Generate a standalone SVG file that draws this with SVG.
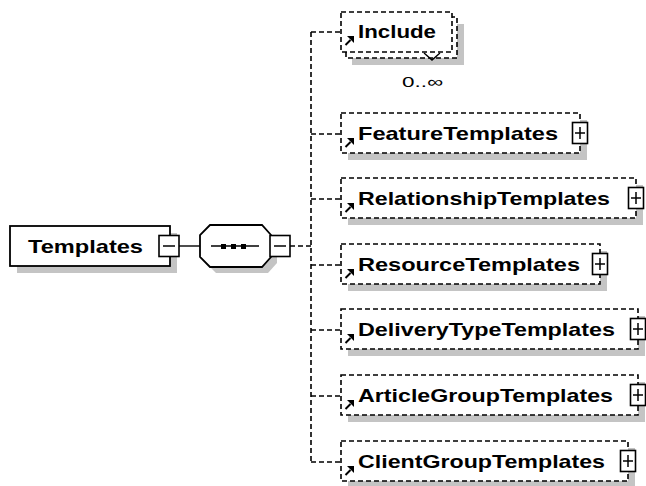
<svg xmlns="http://www.w3.org/2000/svg" width="646" height="486" viewBox="0 0 646 486">
<defs>
<style>
.bg{fill:#ffffff}
.shadow{fill:#c4c4c4;stroke:none}
.box{fill:#ffffff;stroke:#000;stroke-width:1.8}
.opt{fill:#ffffff;stroke:#000;stroke-width:1.6;stroke-dasharray:5 3}
.tog{fill:#ffffff;stroke:#000;stroke-width:1.6}
.sym{stroke:#000;stroke-width:1.5;fill:none}
.conn{stroke:#000;stroke-width:1.4;fill:none}
.dash{stroke:#000;stroke-width:1.6;fill:none;stroke-dasharray:5 3}
.lbl{font-family:"Liberation Sans",Arial,sans-serif;font-weight:bold;font-size:19px;fill:#000}
.occ{font-family:"Liberation Sans",Arial,sans-serif;font-size:15px;fill:#000}
</style>
<g id="refarrow">
<line x1="345.5" y1="13" x2="350.5" y2="8" stroke="#000" stroke-width="2"/>
<polygon points="354,4 354,11 347,4" fill="#000"/>
</g>
<g id="plus">
<rect x="-7.5" y="-10.5" width="15" height="21" class="tog"/>
<line x1="-5" y1="0" x2="5" y2="0" class="sym"/>
<line x1="0" y1="-6" x2="0" y2="6" class="sym"/>
</g>
</defs>
<rect width="646" height="486" class="bg"/>

<g id="connectors">
<line x1="178" y1="246" x2="200" y2="246" class="conn"/>
<line x1="290" y1="246" x2="311" y2="246" class="dash"/>
<line x1="311" y1="32" x2="311" y2="462" class="dash"/>
<line x1="311" y1="32" x2="341" y2="32" class="dash"/>
<line x1="311" y1="134" x2="341" y2="134" class="dash"/>
<line x1="311" y1="199" x2="341" y2="199" class="dash"/>
<line x1="311" y1="265" x2="341" y2="265" class="dash"/>
<line x1="311" y1="330" x2="341" y2="330" class="dash"/>
<line x1="311" y1="396" x2="341" y2="396" class="dash"/>
<line x1="311" y1="462" x2="341" y2="462" class="dash"/>
</g>

<g id="Templates">
<rect x="17" y="233" width="160" height="40" class="shadow"/>
<rect x="10" y="226" width="160" height="40" class="box"/>
<text x="28" y="252.5" class="lbl" textLength="115" lengthAdjust="spacingAndGlyphs">Templates</text>
<rect x="159" y="235.5" width="20" height="21" class="tog"/>
<line x1="163" y1="246" x2="175" y2="246" class="sym"/>
</g>

<g id="sequence">
<polygon points="216,231 268,231 277,241 277,263 268,273 216,273 206,263 206,241" class="shadow"/>
<polygon points="210,225 262,225 271,235 271,257 262,267 210,267 200,257 200,235" class="box"/>
<line x1="211" y1="246" x2="259" y2="246" class="conn"/>
<rect x="221" y="244" width="5" height="5" fill="#000"/>
<rect x="231" y="244" width="5" height="5" fill="#000"/>
<rect x="241" y="244" width="5" height="5" fill="#000"/>
<rect x="270" y="235.5" width="20" height="21" class="tog"/>
<line x1="274" y1="246" x2="286" y2="246" class="sym"/>
</g>

<g id="Include">
<rect x="352" y="24" width="112" height="41" class="shadow"/>
<rect x="346" y="17" width="111" height="41" class="opt"/>
<rect x="341" y="12" width="111" height="40" class="opt"/>
<polyline points="424,53 432,60 440,53" class="conn"/>
<text x="358" y="38" class="lbl" textLength="78" lengthAdjust="spacingAndGlyphs">Include</text>
<use href="#refarrow" transform="translate(0,32)"/>
<text x="402" y="87" class="occ" textLength="41" lengthAdjust="spacingAndGlyphs">0..∞</text>
</g>

<g id="FeatureTemplates">
<rect x="348" y="120" width="239" height="40" class="shadow"/>
<rect x="341" y="113" width="239" height="40" class="opt"/>
<text x="358" y="140" class="lbl" textLength="200" lengthAdjust="spacingAndGlyphs">FeatureTemplates</text>
<use href="#refarrow" transform="translate(0,134)"/>
<use href="#plus" transform="translate(580,133)"/>
</g>

<g id="RelationshipTemplates">
<rect x="348" y="185" width="295" height="40" class="shadow"/>
<rect x="341" y="178" width="295" height="40" class="opt"/>
<text x="358" y="205" class="lbl" textLength="252" lengthAdjust="spacingAndGlyphs">RelationshipTemplates</text>
<use href="#refarrow" transform="translate(0,199)"/>
<use href="#plus" transform="translate(636,198)"/>
</g>

<g id="ResourceTemplates">
<rect x="348" y="251" width="259" height="40" class="shadow"/>
<rect x="341" y="244" width="259" height="40" class="opt"/>
<text x="358" y="271" class="lbl" textLength="222" lengthAdjust="spacingAndGlyphs">ResourceTemplates</text>
<use href="#refarrow" transform="translate(0,265)"/>
<use href="#plus" transform="translate(600,264)"/>
</g>

<g id="DeliveryTypeTemplates">
<rect x="348" y="316" width="297" height="40" class="shadow"/>
<rect x="341" y="309" width="297" height="40" class="opt"/>
<text x="358" y="336" class="lbl" textLength="257" lengthAdjust="spacingAndGlyphs">DeliveryTypeTemplates</text>
<use href="#refarrow" transform="translate(0,330)"/>
<use href="#plus" transform="translate(638,329)"/>
</g>

<g id="ArticleGroupTemplates">
<rect x="348" y="382" width="297" height="40" class="shadow"/>
<rect x="341" y="375" width="297" height="40" class="opt"/>
<text x="358" y="402" class="lbl" textLength="255" lengthAdjust="spacingAndGlyphs">ArticleGroupTemplates</text>
<use href="#refarrow" transform="translate(0,396)"/>
<use href="#plus" transform="translate(638,395)"/>
</g>

<g id="ClientGroupTemplates">
<rect x="348" y="448" width="287" height="40" class="shadow"/>
<rect x="341" y="441" width="287" height="40" class="opt"/>
<text x="358" y="468" class="lbl" textLength="247" lengthAdjust="spacingAndGlyphs">ClientGroupTemplates</text>
<use href="#refarrow" transform="translate(0,462)"/>
<use href="#plus" transform="translate(628,461)"/>
</g>
</svg>
